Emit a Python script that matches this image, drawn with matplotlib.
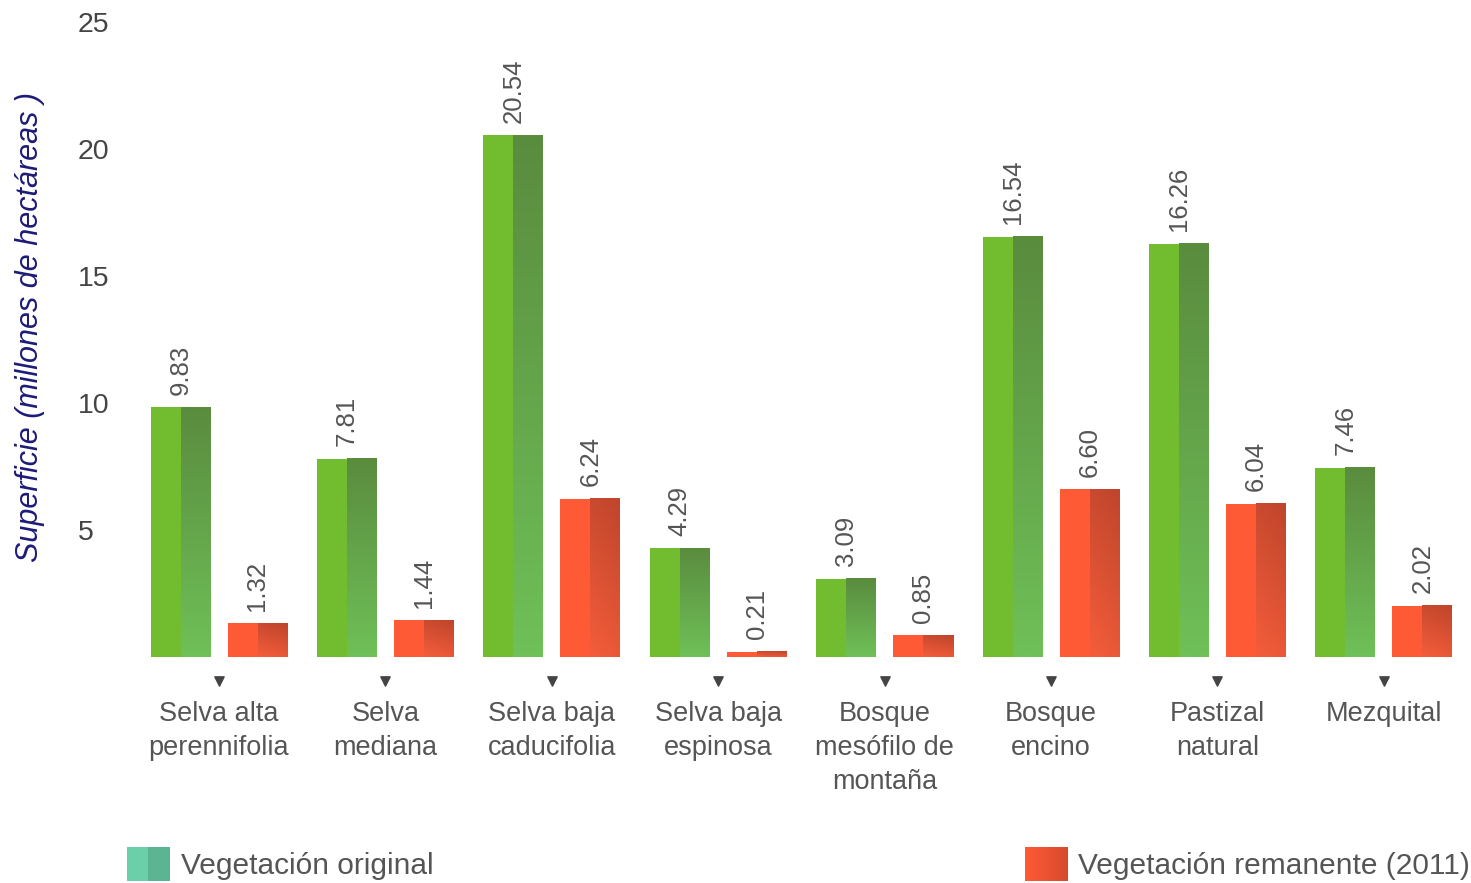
import numpy as np
import matplotlib
matplotlib.use("Agg")
import matplotlib.pyplot as plt
from matplotlib.colors import to_rgb

# data
categorias = ["Selva alta\nperennifolia", "Selva\nmediana", "Selva baja\ncaducifolia",
              "Selva baja\nespinosa", "Bosque\nmesófilo de\nmontaña", "Bosque\nencino",
              "Pastizal\nnatural", "Mezquital"]
original   = [9.83, 7.81, 20.54, 4.29, 3.09, 16.54, 16.26, 7.46]
remanente  = [1.32, 1.44, 6.24, 0.21, 0.85, 6.60, 6.04, 2.02]
y_ticks    = [5, 10, 15, 20, 25]

plt.rcParams["font.family"] = ["Liberation Sans", "DejaVu Sans"]

W, H = 1471, 883
fig = plt.figure(figsize=(W / 100, H / 100), dpi=100)
fig.patch.set_facecolor("white")

# axes placed in pixels: x 130..1465, y 22..657
L, R, T, B = 130, 1465, 22, 657
ax = fig.add_axes([L / W, (H - B) / H, (R - L) / W, (B - T) / H])

unit = 166.4           # px between groups
c0 = 219               # px of first group centre
x = np.arange(len(categorias))
off = 38.5 / unit
bw = 60 / unit

GREEN_L = "#72bd2f"
GREEN_TOP, GREEN_BOT = "#5a8c3e", "#6fc058"
RED_L = "#ff5a36"
RED_TOP, RED_BOT = "#bf452c", "#f45d3a"
TXT = "#555555"


def grad_vertical(top, bot, n=64):
    t = np.linspace(0, 1, n)[:, None, None]
    a, b = np.array(to_rgb(bot)), np.array(to_rgb(top))
    return a * (1 - t) + b * t


def grad_diag(top, bot, n=64, m=16):
    r = np.linspace(0, 1, n)[:, None]
    c = np.linspace(0, 1, m)[None, :]
    t = ((r * 0.8 + c * 0.2))[:, :, None]
    a, b = np.array(to_rgb(bot)), np.array(to_rgb(top))
    return a * (1 - t) + b * t


bars_o = ax.bar(x - off, original, width=bw, color=GREEN_L, zorder=2)
bars_r = ax.bar(x + off, remanente, width=bw, color=RED_L, zorder=2)

g_img = grad_vertical(GREEN_TOP, GREEN_BOT)
r_img = grad_diag(RED_TOP, RED_BOT)
for bars, img in ((bars_o, g_img), (bars_r, r_img)):
    for b in bars:
        x0, w, h = b.get_x(), b.get_width(), b.get_height()
        ax.imshow(img, extent=[x0 + w / 2, x0 + w, 0, h], origin="lower",
                  aspect="auto", interpolation="bilinear", zorder=3)

# value labels
for bars in (bars_o, bars_r):
    for b in bars:
        h = b.get_height()
        ax.annotate(f"{h:.2f}", (b.get_x() + b.get_width() / 2, h),
                    xytext=(0, 9), textcoords="offset points",
                    rotation=90, ha="center", va="bottom",
                    fontsize=18.5, color=TXT)

ax.set_xlim((L - c0) / unit, (R - c0) / unit)
ax.set_ylim(0, 25)

ax.set_yticks(y_ticks)
ax.set_yticklabels([str(v) for v in y_ticks], fontsize=20.5, color="#444444")
for lab in ax.get_yticklabels():
    lab.set_horizontalalignment("left")
ax.tick_params(axis="y", length=0, pad=(L - 78) / 1.389)

ax.set_xticks(x)
ax.set_xticklabels(categorias, fontsize=19.5, color=TXT, linespacing=1.38)
ax.tick_params(axis="x", length=0, pad=32)

# small triangles under each group
ax.scatter(x, np.full(len(x), -0.038), marker="v", s=45, color="#444444",
           transform=ax.get_xaxis_transform(), clip_on=False, zorder=4)

for s in ax.spines.values():
    s.set_visible(False)

fig.text(30 / W, (H - 327) / H, "Superficie (millones de hectáreas )",
         rotation=90, ha="center", va="center", fontsize=22,
         style="italic", color="#1c1c78")

# legend
def legend_patch(px, img):
    lax = fig.add_axes([px / W, (H - 881) / H, 43 / W, 34 / H])
    lax.imshow(img, aspect="auto", interpolation="nearest")
    lax.axis("off")

teal = np.array([[to_rgb("#6bcfa9"), to_rgb("#5cb592")]])
legend_patch(127, teal)
t = np.linspace(0, 1, 32)[None, :, None]
red_h = np.array(to_rgb("#ff5a36")) * (1 - t) + np.array(to_rgb("#d84a2e")) * t
legend_patch(1025, red_h)

fig.text(181 / W, (H - 866) / H, "Vegetación original", ha="left", va="center",
         fontsize=21.5, color=TXT)
fig.text(1078 / W, (H - 866) / H, "Vegetación remanente (2011)", ha="left",
         va="center", fontsize=21.5, color=TXT)

fig.savefig("out.png", dpi=100, facecolor="white")
